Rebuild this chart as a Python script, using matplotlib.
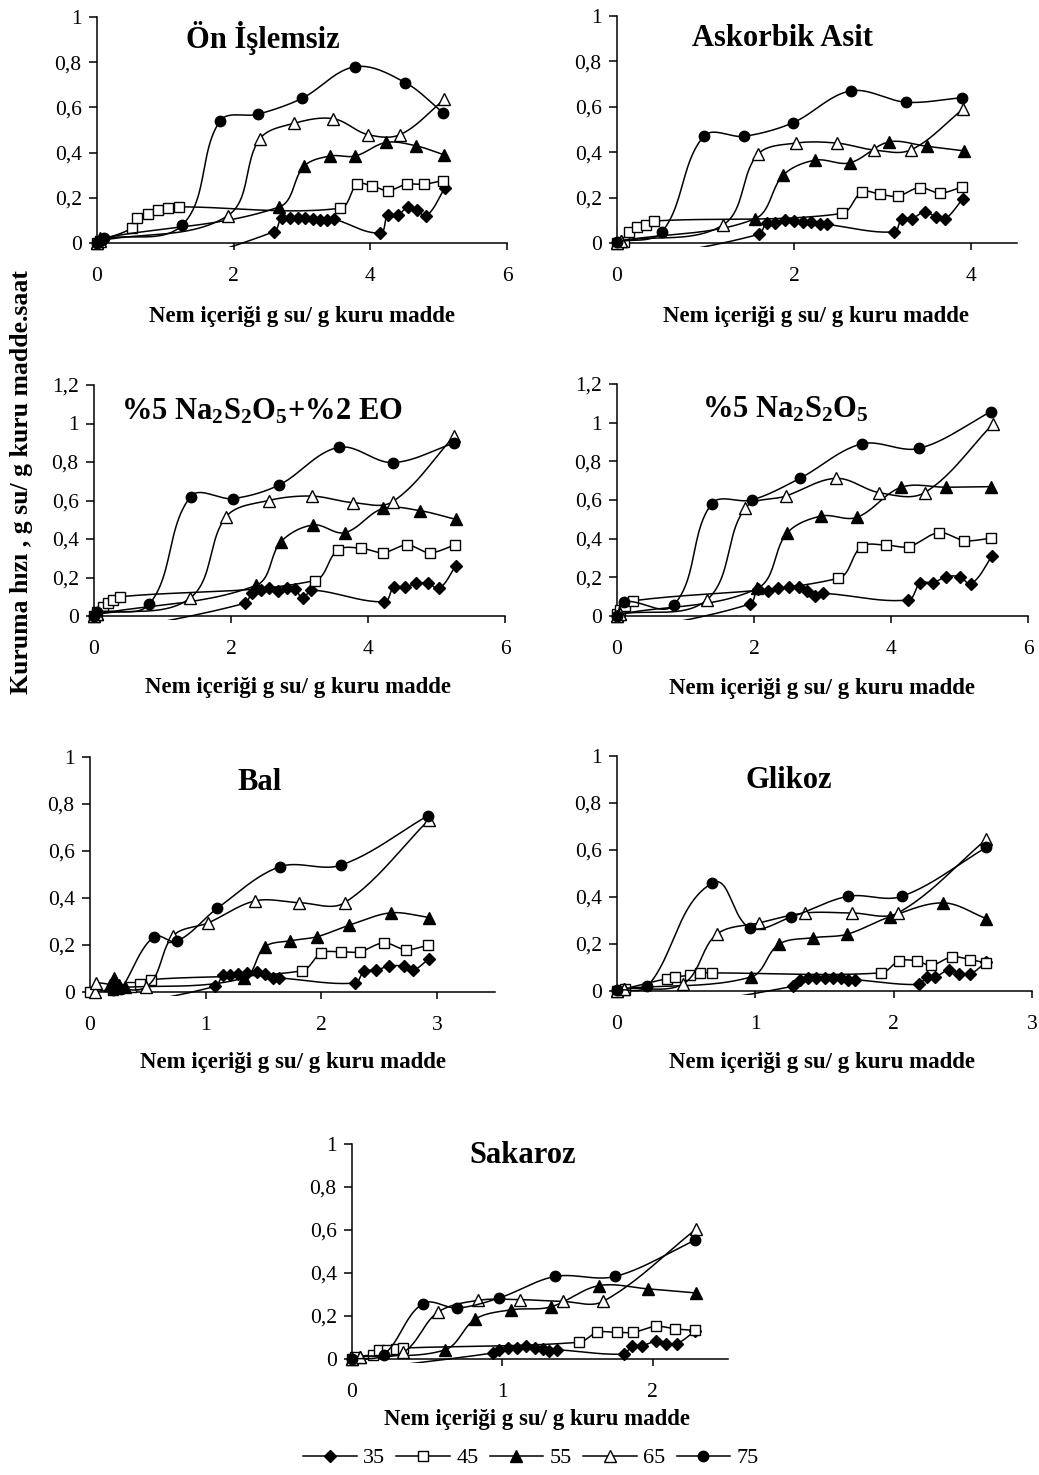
import numpy as np
import matplotlib.pyplot as plt
from matplotlib.lines import Line2D

plt.rcParams['font.family'] = ['Liberation Serif', 'DejaVu Serif']
plt.rcParams['mathtext.default'] = 'regular'

W, H = 1039, 1475
temps = ['35', '45', '55', '65', '75']

# Ön işlemsiz
on_x35 = [0.0, 2.59, 2.70, 2.82, 2.94, 3.04, 3.16, 3.26, 3.36, 3.47, 4.14, 4.26, 4.41, 4.55, 4.68, 4.82, 5.09]
on_y35 = [-0.20, 0.05, 0.11, 0.11, 0.11, 0.11, 0.105, 0.10, 0.10, 0.105, 0.045, 0.125, 0.125, 0.16, 0.147, 0.12, 0.243]
on_x45 = [0.0, 0.05, 0.51, 0.59, 0.74, 0.89, 1.04, 1.20, 3.56, 3.81, 4.02, 4.26, 4.53, 4.78, 5.06]
on_y45 = [0.0, 0.01, 0.066, 0.11, 0.13, 0.147, 0.154, 0.16, 0.154, 0.26, 0.253, 0.232, 0.26, 0.26, 0.276]
on_x55 = [0.0, 0.05, 2.67, 3.03, 3.41, 3.78, 4.23, 4.67, 5.08]
on_y55 = [0.0, 0.02, 0.16, 0.34, 0.385, 0.385, 0.445, 0.43, 0.39]
on_x65 = [0.0, 0.05, 1.91, 2.38, 2.89, 3.46, 3.96, 4.44, 5.08]
on_y65 = [0.0, 0.01, 0.12, 0.46, 0.53, 0.55, 0.48, 0.48, 0.635]
on_x75 = [0.0, 0.05, 0.10, 1.25, 1.80, 2.36, 3.00, 3.78, 4.51, 5.07]
on_y75 = [0.0, 0.01, 0.02, 0.08, 0.54, 0.57, 0.64, 0.78, 0.71, 0.575]

# Askorbik asit
aa_x35 = [0.0, 1.60, 1.69, 1.79, 1.90, 2.00, 2.10, 2.19, 2.29, 2.37, 3.13, 3.22, 3.33, 3.48, 3.60, 3.71, 3.91]
aa_y35 = [-0.09, 0.038, 0.088, 0.09, 0.10, 0.097, 0.093, 0.093, 0.085, 0.082, 0.049, 0.107, 0.107, 0.137, 0.115, 0.107, 0.196]
aa_x45 = [0.0, 0.08, 0.13, 0.23, 0.33, 0.42, 2.54, 2.77, 2.97, 3.17, 3.42, 3.65, 3.90]
aa_y45 = [0.0, 0.004, 0.05, 0.07, 0.08, 0.097, 0.13, 0.225, 0.215, 0.206, 0.244, 0.22, 0.247]
aa_x55 = [0.0, 0.05, 1.56, 1.88, 2.24, 2.63, 3.07, 3.50, 3.92]
aa_y55 = [0.0, 0.01, 0.107, 0.30, 0.365, 0.353, 0.445, 0.426, 0.406]
aa_x65 = [0.0, 0.05, 1.20, 1.59, 2.02, 2.49, 2.90, 3.32, 3.91]
aa_y65 = [0.0, 0.01, 0.08, 0.39, 0.44, 0.44, 0.41, 0.41, 0.59]
aa_x75 = [0.0, 0.51, 0.98, 1.44, 1.99, 2.64, 3.27, 3.90]
aa_y75 = [0.005, 0.05, 0.47, 0.47, 0.53, 0.67, 0.62, 0.64]

# %5 Na2S2O5 + %2 EO
eo_x35 = [0.0, 2.20, 2.31, 2.44, 2.56, 2.69, 2.82, 2.94, 3.05, 3.17, 4.24, 4.38, 4.54, 4.70, 4.88, 5.04, 5.28]
eo_y35 = [-0.10, 0.066, 0.121, 0.135, 0.144, 0.132, 0.144, 0.139, 0.092, 0.135, 0.074, 0.152, 0.149, 0.17, 0.17, 0.144, 0.26]
eo_x45 = [0.0, 0.05, 0.13, 0.20, 0.28, 0.38, 3.22, 3.56, 3.90, 4.22, 4.57, 4.90, 5.27]
eo_y45 = [0.0, 0.02, 0.045, 0.065, 0.083, 0.10, 0.184, 0.343, 0.352, 0.329, 0.369, 0.329, 0.369]
eo_x55 = [0.0, 0.05, 2.37, 2.73, 3.20, 3.66, 4.22, 4.76, 5.28]
eo_y55 = [0.0, 0.01, 0.16, 0.386, 0.473, 0.433, 0.559, 0.547, 0.502]
eo_x65 = [0.0, 0.05, 1.40, 1.93, 2.55, 3.18, 3.78, 4.36, 5.26]
eo_y65 = [0.0, 0.01, 0.092, 0.516, 0.60, 0.623, 0.589, 0.594, 0.935]
eo_x75 = [0.0, 0.05, 0.81, 1.41, 2.03, 2.70, 3.57, 4.36, 5.25]
eo_y75 = [0.0, 0.02, 0.062, 0.62, 0.61, 0.68, 0.876, 0.797, 0.897]

# %5 Na2S2O5
ms_x35 = [0.0, 1.94, 2.06, 2.21, 2.35, 2.51, 2.66, 2.77, 2.89, 3.01, 4.25, 4.43, 4.61, 4.81, 5.01, 5.17, 5.48]
ms_y35 = [-0.094, 0.062, 0.138, 0.131, 0.143, 0.148, 0.152, 0.131, 0.103, 0.117, 0.083, 0.172, 0.172, 0.203, 0.203, 0.166, 0.312]
ms_x45 = [0.0, 0.05, 0.12, 0.24, 3.23, 3.57, 3.92, 4.26, 4.70, 5.07, 5.46]
ms_y45 = [0.01, 0.03, 0.05, 0.079, 0.195, 0.359, 0.367, 0.359, 0.431, 0.39, 0.402]
ms_x55 = [0.0, 0.05, 2.05, 2.48, 2.98, 3.50, 4.15, 4.80, 5.46]
ms_y55 = [0.0, 0.01, 0.143, 0.428, 0.517, 0.51, 0.666, 0.666, 0.669]
ms_x65 = [0.0, 0.05, 1.31, 1.87, 2.46, 3.20, 3.83, 4.49, 5.49]
ms_y65 = [0.0, 0.01, 0.083, 0.557, 0.62, 0.712, 0.638, 0.638, 0.993]
ms_x75 = [0.0, 0.10, 0.83, 1.38, 1.97, 2.67, 3.57, 4.41, 5.46]
ms_y75 = [0.0, 0.074, 0.057, 0.58, 0.60, 0.712, 0.89, 0.867, 1.057]

# Bal
bal_x35 = [0.0, 1.08, 1.15, 1.21, 1.28, 1.36, 1.44, 1.51, 1.58, 1.63, 2.29, 2.37, 2.47, 2.58, 2.71, 2.79, 2.93]
bal_y35 = [-0.083, 0.024, 0.071, 0.071, 0.075, 0.081, 0.085, 0.078, 0.06, 0.06, 0.038, 0.09, 0.092, 0.11, 0.11, 0.092, 0.142]
bal_x45 = [0.0, 0.20, 0.35, 0.43, 0.53, 1.83, 2.00, 2.17, 2.33, 2.54, 2.73, 2.92]
bal_y45 = [0.0, 0.01, 0.021, 0.035, 0.053, 0.09, 0.166, 0.171, 0.171, 0.209, 0.18, 0.199]
bal_x55 = [0.17, 0.21, 0.25, 0.30, 1.33, 1.51, 1.73, 1.96, 2.24, 2.60, 2.93]
bal_y55 = [0.03, 0.061, 0.03, 0.02, 0.06, 0.192, 0.218, 0.235, 0.284, 0.337, 0.317]
bal_x65 = [0.04, 0.05, 0.48, 0.72, 1.02, 1.43, 1.81, 2.20, 2.93]
bal_y65 = [0.0, 0.038, 0.02, 0.24, 0.294, 0.388, 0.38, 0.38, 0.733]
bal_x75 = [0.20, 0.23, 0.27, 0.55, 0.75, 1.10, 1.64, 2.17, 2.92]
bal_y75 = [0.01, 0.014, 0.014, 0.235, 0.216, 0.356, 0.533, 0.54, 0.75]

# Glikoz
gl_x35 = [0.0, 1.27, 1.32, 1.38, 1.44, 1.50, 1.56, 1.62, 1.67, 1.72, 2.18, 2.24, 2.30, 2.40, 2.47, 2.55, 2.67]
gl_y35 = [-0.107, 0.02, 0.048, 0.057, 0.057, 0.057, 0.057, 0.057, 0.048, 0.048, 0.028, 0.06, 0.06, 0.09, 0.074, 0.071, 0.124]
gl_x45 = [0.0, 0.06, 0.36, 0.42, 0.53, 0.60, 0.69, 1.91, 2.04, 2.17, 2.27, 2.42, 2.55, 2.67]
gl_y45 = [0.0, 0.01, 0.053, 0.06, 0.067, 0.077, 0.077, 0.077, 0.128, 0.128, 0.109, 0.145, 0.134, 0.119]
gl_x55 = [0.0, 0.05, 0.97, 1.17, 1.42, 1.66, 1.97, 2.36, 2.67]
gl_y55 = [0.0, 0.01, 0.06, 0.199, 0.227, 0.241, 0.315, 0.375, 0.308]
gl_x65 = [0.0, 0.05, 0.48, 0.72, 1.03, 1.36, 1.70, 2.03, 2.67]
gl_y65 = [0.0, 0.01, 0.031, 0.241, 0.29, 0.332, 0.332, 0.332, 0.645]
gl_x75 = [0.0, 0.22, 0.69, 0.96, 1.26, 1.67, 2.06, 2.67]
gl_y75 = [0.005, 0.02, 0.46, 0.27, 0.315, 0.403, 0.403, 0.611]

# Sakaroz
sk_x35 = [0.0, 0.94, 0.98, 1.04, 1.10, 1.16, 1.22, 1.27, 1.31, 1.36, 1.81, 1.86, 1.93, 2.02, 2.09, 2.16, 2.28]
sk_y35 = [-0.055, 0.028, 0.043, 0.05, 0.05, 0.059, 0.051, 0.047, 0.039, 0.043, 0.023, 0.062, 0.062, 0.082, 0.071, 0.071, 0.129]
sk_x45 = [0.0, 0.02, 0.14, 0.18, 0.23, 0.29, 0.34, 1.51, 1.63, 1.76, 1.87, 2.02, 2.15, 2.28]
sk_y45 = [0.0, 0.01, 0.02, 0.04, 0.04, 0.045, 0.051, 0.078, 0.124, 0.124, 0.124, 0.152, 0.14, 0.133]
sk_x55 = [0.0, 0.05, 0.62, 0.82, 1.06, 1.32, 1.64, 1.97, 2.29]
sk_y55 = [0.0, 0.01, 0.043, 0.186, 0.229, 0.242, 0.341, 0.326, 0.307]
sk_x65 = [0.0, 0.05, 0.34, 0.57, 0.84, 1.12, 1.40, 1.67, 2.29]
sk_y65 = [0.0, 0.01, 0.031, 0.217, 0.273, 0.276, 0.268, 0.268, 0.605]
sk_x75 = [0.0, 0.21, 0.47, 0.70, 0.98, 1.35, 1.75, 2.28]
sk_y75 = [0.0, 0.02, 0.257, 0.237, 0.284, 0.384, 0.384, 0.552]

styles = {
    '35': dict(marker='D', ms=6.5, mfc='k', mec='k'),
    '45': dict(marker='s', ms=7.5, mfc='w', mec='k', mew=1.0),
    '55': dict(marker='^', ms=8.5, mfc='k', mec='k'),
    '65': dict(marker='^', ms=9, mfc='w', mec='k', mew=1.0),
    '75': dict(marker='o', ms=7.5, mfc='k', mec='k'),
}

XLABEL = 'Nem içeriği g su/ g kuru madde'


def smooth(ax, x, y, k=1/3, n=25):
    # Bezier through the points, tangents from the neighbours (in pixel space)
    pts = ax.transData.transform(np.column_stack([x, y]))
    t = np.linspace(0, 1, n)[1:, None]
    out = [pts[:1]]
    m = len(pts)
    for i in range(m - 1):
        p0, p1 = pts[max(i - 1, 0)], pts[i]
        p2, p3 = pts[i + 1], pts[min(i + 2, m - 1)]
        d = np.hypot(*(p2 - p1))
        a, b = p2 - p0, p3 - p1
        na, nb = np.hypot(*a), np.hypot(*b)
        c1 = p1 + (a / na * d * k if na > 0 else 0)
        c2 = p2 - (b / nb * d * k if nb > 0 else 0)
        out.append((1 - t) ** 3 * p1 + 3 * (1 - t) ** 2 * t * c1
                   + 3 * (1 - t) * t ** 2 * c2 + t ** 3 * p2)
    xy = ax.transData.inverted().transform(np.vstack(out))
    return xy[:, 0], xy[:, 1]


def fmt(v):
    s = f'{v:.1f}'
    if s.endswith('.0'):
        s = s[:-2]
    return s.replace('.', ',')


fig = plt.figure(figsize=(W / 100, H / 100), dpi=100)


def panel(box, xmax, xticks, ytop, series, title, title_xy, xlabel_xy):
    l, r, y0, yt = box
    clip = 0.018 * ytop
    bottom = y0 + (y0 - yt) * clip / ytop
    ax = fig.add_axes([l / W, 1 - bottom / H, (r - l) / W, (bottom - yt) / H])
    ax.set_xlim(0, xmax)
    ax.set_ylim(-clip, ytop)
    ax.patch.set_visible(False)
    for s in ['top', 'right']:
        ax.spines[s].set_visible(False)
    ax.spines['bottom'].set_position(('data', 0))
    ax.spines['left'].set_bounds(0, ytop)
    for s in ['bottom', 'left']:
        ax.spines[s].set_linewidth(1.1)
    yt_vals = np.round(np.arange(0, ytop + 0.01, 0.2), 1)
    ax.set_yticks(yt_vals)
    ax.set_yticklabels([fmt(v) for v in yt_vals])
    ax.set_xticks(xticks)
    ax.set_xticklabels([str(v) for v in xticks])
    ax.tick_params(axis='y', direction='out', length=6, width=1.1, pad=5, labelsize=15.5)
    ax.tick_params(axis='x', direction='out', length=5, width=1.1, pad=12, labelsize=15.5)

    for z, (t, (xs, ys)) in enumerate(zip(temps, series)):
        sx, sy = smooth(ax, xs, ys)
        ax.plot(sx, sy, color='k', lw=1.1, zorder=3 + 2 * z)
        xs, ys = np.array(xs), np.array(ys)
        keep = ys >= 0
        ax.plot(xs[keep], ys[keep], ls='none', clip_on=False, zorder=4 + 2 * z, **styles[t])

    fig.text(title_xy[0] / W, 1 - title_xy[1] / H, title, ha='center', va='baseline',
             fontsize=22, fontweight='bold')
    fig.text(xlabel_xy[0] / W, 1 - xlabel_xy[1] / H, XLABEL, ha='center', va='baseline',
             fontsize=16.5, fontweight='bold')
    return ax


panel((97, 507, 243, 17), 6, [0, 2, 4, 6], 1.0,
      [(on_x35, on_y35), (on_x45, on_y45), (on_x55, on_y55), (on_x65, on_y65), (on_x75, on_y75)],
      'Ön İşlemsiz', (263, 48), (302, 322))
panel((617, 1017, 243, 16), 4.52, [0, 2, 4], 1.0,
      [(aa_x35, aa_y35), (aa_x45, aa_y45), (aa_x55, aa_y55), (aa_x65, aa_y65), (aa_x75, aa_y75)],
      'Askorbik Asit', (783, 46), (816, 322))
panel((94, 505, 616, 385), 6, [0, 2, 4, 6], 1.2,
      [(eo_x35, eo_y35), (eo_x45, eo_y45), (eo_x55, eo_y55), (eo_x65, eo_y65), (eo_x75, eo_y75)],
      '%5 Na$_2$S$_2$O$_5$+%2 EO', (262, 420), (298, 693))
panel((617, 1028, 616, 384), 6, [0, 2, 4, 6], 1.2,
      [(ms_x35, ms_y35), (ms_x45, ms_y45), (ms_x55, ms_y55), (ms_x65, ms_y65), (ms_x75, ms_y75)],
      '%5 Na$_2$S$_2$O$_5$', (785, 418), (822, 694))
panel((90, 495, 992, 757), 3.5, [0, 1, 2, 3], 1.0,
      [(bal_x35, bal_y35), (bal_x45, bal_y45), (bal_x55, bal_y55), (bal_x65, bal_y65), (bal_x75, bal_y75)],
      'Bal', (260, 790), (293, 1068))
panel((617, 1032, 991, 756), 3, [0, 1, 2, 3], 1.0,
      [(gl_x35, gl_y35), (gl_x45, gl_y45), (gl_x55, gl_y55), (gl_x65, gl_y65), (gl_x75, gl_y75)],
      'Glikoz', (789, 788), (822, 1068))
panel((352, 728, 1359, 1144), 2.5, [0, 1, 2], 1.0,
      [(sk_x35, sk_y35), (sk_x45, sk_y45), (sk_x55, sk_y55), (sk_x65, sk_y65), (sk_x75, sk_y75)],
      'Sakaroz', (523, 1163), (537, 1425))

fig.text(22 / W, 1 - 482 / H, 'Kuruma hızı , g su/ g kuru madde.saat', rotation=90,
         ha='center', va='center', fontsize=18.5, fontweight='bold')

handles = [Line2D([], [], color='k', lw=1.1, **styles[t]) for t in temps]
fig.legend(handles, temps, loc='center', bbox_to_anchor=(531 / W, 1 - 1458 / H), ncol=5,
           frameon=False, handlelength=2.4, handletextpad=0.3, columnspacing=0.5,
           fontsize=16)

fig.savefig('out.png', dpi=100)
